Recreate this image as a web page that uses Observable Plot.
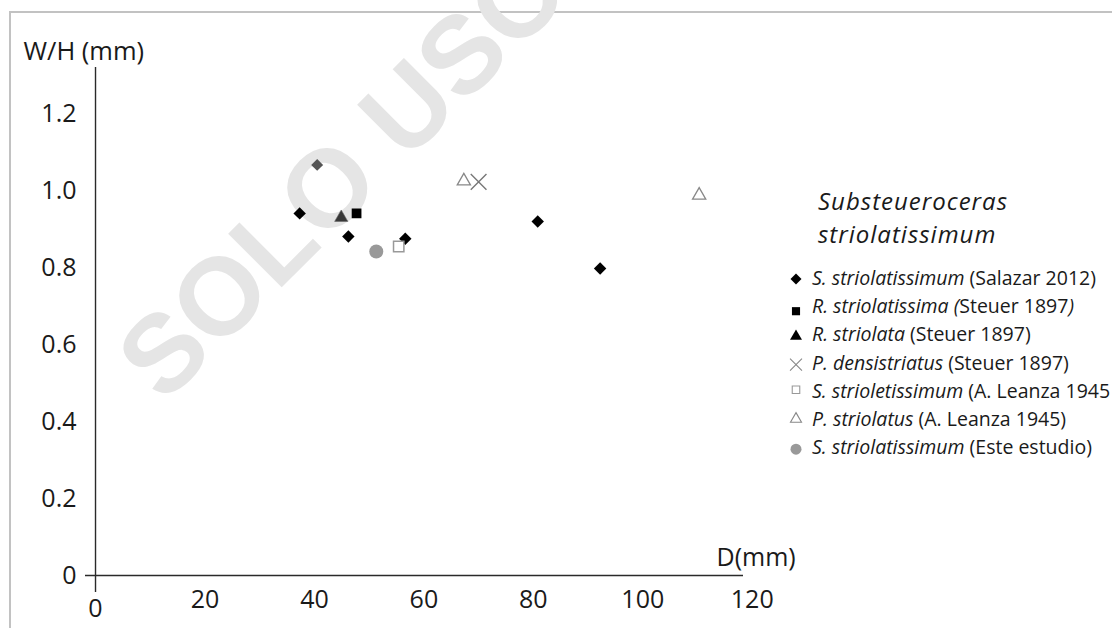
<!DOCTYPE html>
<html>
<head>
<meta charset="utf-8">
<script src="https://cdn.jsdelivr.net/npm/d3@7"></script>
<script src="https://cdn.jsdelivr.net/npm/@observablehq/plot@0.6"></script>
<style>
  html, body { margin: 0; padding: 0; background: #fff; }
  #wrap { position: relative; width: 1112px; height: 628px; overflow: hidden; font-family: "Open Sans", sans-serif; }
  #border { position: absolute; left: 9px; top: 11px; width: 1300px; height: 800px; border-top: 2px solid #c2c2c2; border-left: 2px solid #c2c2c2; }
  .layer { position: absolute; left: 0; top: 0; }
</style>
</head>
<body>
<div id="wrap">
  <div id="border"></div>
  <svg id="wm" class="layer" width="1112" height="628"></svg>
  <div id="chart" class="layer"></div>
  <svg id="legend" class="layer" width="1112" height="628"></svg>
</div>
<script>
// ---- data ----
const salazarD   = [37.3, 46.2, 56.6, 80.8, 92.2];
const salazarWH  = [0.941, 0.881, 0.875, 0.920, 0.798];
const salazarGrayD  = [40.5];
const salazarGrayWH = [1.067];
const steuerSqD  = [47.7];
const steuerSqWH = [0.941];
const steuerTriD  = [44.9];
const steuerTriWH = [0.930];
const densiD  = [70.0];
const densiWH = [1.023];
const leanzaSqD  = [55.4];
const leanzaSqWH = [0.855];
const leanzaTriD  = [67.3, 110.3];
const leanzaTriWH = [1.025, 0.988];
const esteD  = [51.3];
const esteWH = [0.842];

const xTicks = [0, 20, 40, 60, 80, 100, 120];
const yTicks = [0, 0.2, 0.4, 0.6, 0.8, 1.0, 1.2];
const yTickLabels = ["0", "0.2", "0.4", "0.6", "0.8", "1.0", "1.2"];
const xTitle = "D(mm)";
const yTitle = "W/H (mm)";

const legendTitle = ["Substeueroceras", "striolatissimum"];
const legendItalic = ["S. striolatissimum", "R. striolatissima (", "R. striolata", "P. densistriatus", "S. strioletissimum", "P. striolatus", "S. striolatissimum"];
const legendPlain  = [" (Salazar 2012)", "Steuer 1897", " (Steuer 1897)", " (Steuer 1897)", " (A. Leanza 1945", " (A. Leanza 1945)", " (Este estudio)"];
const legendTail   = ["", ")", "", "", "", "", ""];

const pts = (xs, ys) => xs.map((d, i) => ({D: d, WH: ys[i]}));

// ---- chart ----
const chart = Plot.plot({
  width: 1112,
  height: 628,
  marginLeft: 85,
  marginRight: 369,
  marginTop: 67,
  marginBottom: 36,
  style: {background: "transparent", fontFamily: "'Open Sans', sans-serif", overflow: "visible", color: "#1a1a1a"},
  x: {domain: [-1.83, 118.4], axis: null},
  y: {domain: [-0.044, 1.32], axis: null},
  marks: [
    Plot.ruleY([0], {stroke: "#2a2a2a", strokeWidth: 1.4}),
    Plot.ruleX([0], {stroke: "#2a2a2a", strokeWidth: 1.4}),
    Plot.text(xTicks.filter(d => d > 0), {x: d => d, y: 0, text: d => String(d), dy: 24, fontSize: 25, fill: "#1a1a1a"}),
    Plot.text(xTicks.filter(d => d === 0), {x: d => d, y: 0, text: d => String(d), dy: 33, fontSize: 25, fill: "#1a1a1a"}),
    Plot.text(yTicks, {y: d => d, text: (d, i) => yTickLabels[i], frameAnchor: "left", dx: -9, textAnchor: "end", fontSize: 25, fill: "#1a1a1a"}),
    Plot.text([yTitle], {frameAnchor: "top-left", dx: -62, dy: -8, lineAnchor: "bottom", textAnchor: "start", fontSize: 25.5, fill: "#1a1a1a"}),
    Plot.text([xTitle], {frameAnchor: "bottom-right", dx: -27, dy: -27, lineAnchor: "bottom", textAnchor: "start", fontSize: 25, fill: "#1a1a1a"}),
    Plot.dot(pts(salazarD, salazarWH), {x: "D", y: "WH", symbol: "diamond2", r: 5.6, fill: "#000"}),
    Plot.dot(pts(salazarGrayD, salazarGrayWH), {x: "D", y: "WH", symbol: "diamond2", r: 5.4, fill: "#555"}),
    Plot.dot(pts(steuerSqD, steuerSqWH), {x: "D", y: "WH", symbol: "square", r: 5.5, fill: "#000"}),
    Plot.dot(pts(steuerTriD, steuerTriWH), {x: "D", y: "WH", symbol: "triangle", r: 4.9, fill: "#383838", stroke: "#666", strokeWidth: 0.6}),
    Plot.dot(pts(densiD, densiWH), {x: "D", y: "WH", symbol: "times", r: 7.2, stroke: "#777", strokeWidth: 1.4}),
    Plot.dot(pts(leanzaTriD, leanzaTriWH), {x: "D", y: "WH", symbol: "triangle2", r: 6.3, stroke: "#888", strokeWidth: 1.3, fill: "none"}),
    Plot.dot(pts(esteD, esteWH), {x: "D", y: "WH", symbol: "circle", r: 7, fill: "#999"}),
    Plot.dot(pts(leanzaSqD, leanzaSqWH), {x: "D", y: "WH", symbol: "square2", r: 6.6, stroke: "#999", strokeWidth: 1.5, fill: "#fff"})
  ]
});
document.getElementById("chart").appendChild(chart);

// ---- watermark ----
d3.select("#wm").append("text")
  .attr("x", 164).attr("y", 405)
  .attr("transform", "rotate(-45 164 405)")
  .attr("font-family", "'Liberation Sans', Arial, sans-serif")
  .attr("font-weight", "bold")
  .attr("font-size", 110)
  .attr("fill", "#e5e5e5")
  .text("SOLO USO");

// ---- legend ----
const lg = d3.select("#legend");
const titleBaselines = [210, 243];
legendTitle.forEach((t, i) => {
  lg.append("text").attr("x", 818).attr("y", titleBaselines[i])
    .attr("font-family", "'Open Sans', sans-serif").attr("font-style", "italic")
    .attr("font-size", 24).attr("letter-spacing", 1).attr("fill", "#1a1a1a").text(t);
});
const symTypes = [d3.symbolDiamond2, d3.symbolSquare, d3.symbolTriangle, d3.symbolTimes, d3.symbolSquare2, d3.symbolTriangle2, d3.symbolCircle];
const symSizes = [77, 66, 62, 95, 72, 87, 95];
const symFill = ["#000", "#000", "#000", "none", "#fff", "none", "#999"];
const symStroke = ["none", "none", "none", "#888", "#999", "#888", "none"];
const symOffset = [-6, -2, -5, -5, -8, -7, -5];
legendItalic.forEach((name, i) => {
  const base = 285 + 28.2 * i;
  lg.append("path")
    .attr("d", d3.symbol(symTypes[i], symSizes[i])())
    .attr("transform", `translate(796,${base + symOffset[i]})`)
    .attr("fill", symFill[i]).attr("stroke", symStroke[i]).attr("stroke-width", 1.1);
  const t = lg.append("text").attr("x", 812).attr("y", base)
    .attr("font-family", "'Open Sans', sans-serif").attr("font-size", 19.5).attr("fill", "#1a1a1a");
  t.append("tspan").attr("font-style", "italic").text(name);
  t.append("tspan").text(legendPlain[i]);
  if (legendTail[i]) t.append("tspan").attr("font-style", "italic").text(legendTail[i]);
});
</script>
</body>
</html>
